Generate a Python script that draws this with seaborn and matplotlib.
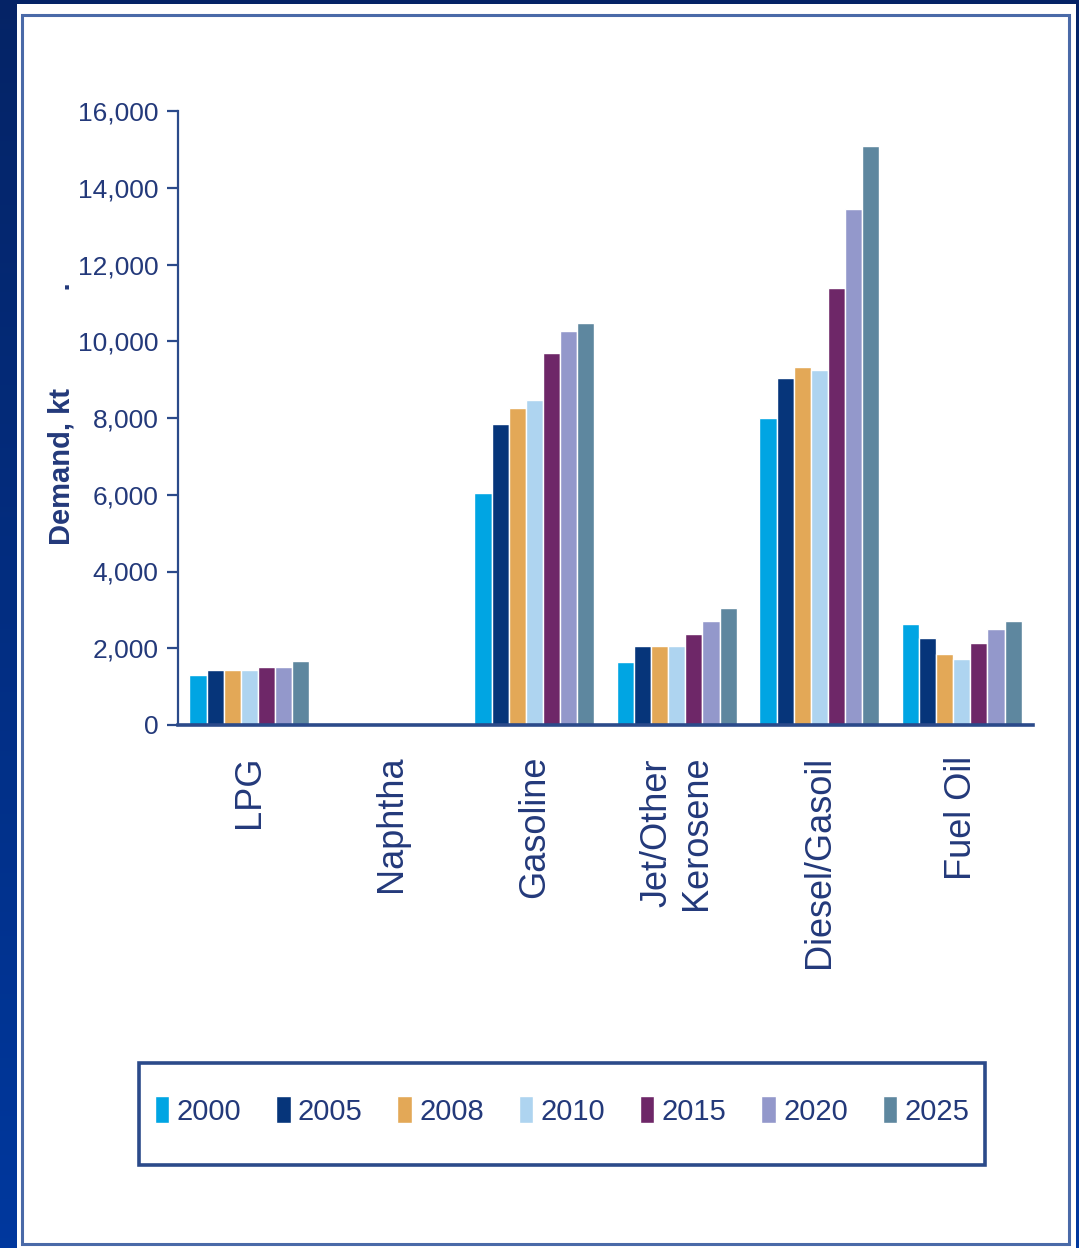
import numpy as np
import pandas as pd
import matplotlib
matplotlib.use("Agg")
import matplotlib.pyplot as plt
import seaborn as sns
from matplotlib.patches import Rectangle
from matplotlib.ticker import FuncFormatter, MultipleLocator

# ---------------- data ----------------
categories = ["LPG", "Naphtha", "Gasoline", "Jet/Other\nKerosene", "Diesel/Gasoil", "Fuel Oil"]
years = ["2000", "2005", "2008", "2010", "2015", "2020", "2025"]
d2000 = [1300, 0, 6050, 1650, 7990, 2640]
d2005 = [1440, 0, 7850, 2060, 9040, 2280]
d2008 = [1440, 0, 8260, 2060, 9330, 1850]
d2010 = [1440, 0, 8470, 2060, 9260, 1720]
d2015 = [1510, 0, 9700, 2360, 11390, 2130]
d2020 = [1500, 0, 10270, 2700, 13450, 2490]
d2025 = [1660, 0, 10480, 3050, 15080, 2700]
series = [d2000, d2005, d2008, d2010, d2015, d2020, d2025]
colors = ["#00a5e3", "#06357a", "#e3a857", "#aed4f0", "#6e2768", "#9398cb", "#5e879f"]

rows = []
for y, vals in zip(years, series):
    for c, v in zip(categories, vals):
        rows.append({"category": c, "year": y, "value": v})
df = pd.DataFrame(rows)

sns.set_theme(style="white")
plt.rcParams["font.family"] = ["Liberation Sans", "DejaVu Sans"]
TXT = "#23397a"
AX = "#2b4a8a"

W, H = 1079, 1248
fig = plt.figure(figsize=(W / 100, H / 100), dpi=100)

# background gradient (decoration)
bg = fig.add_axes([0, 0, 1, 1], zorder=-10)
g = np.linspace(0, 1, 256).reshape(-1, 1)
c_top = np.array([0.02, 0.14, 0.40])
c_bot = np.array([0.00, 0.22, 0.62])
img = c_top[None, None, :] * (1 - g[..., None]) + c_bot[None, None, :] * g[..., None]
bg.imshow(np.repeat(img, 2, axis=1), aspect="auto", extent=[0, 1, 0, 1], origin="upper")
bg.set_xlim(0, 1); bg.set_ylim(0, 1); bg.axis("off")
bg.add_patch(Rectangle((17 / W, 0), (1076 - 17) / W, (H - 4) / H, facecolor="white",
                       edgecolor="none", transform=bg.transAxes))
bg.add_patch(Rectangle((22 / W, 4 / H), (1069 - 22) / W, (1233 - 4) / H, facecolor="none",
                       edgecolor="#4a6aa8", linewidth=2.2, transform=bg.transAxes))
# legend frame
bg.add_patch(Rectangle((139 / W, 1 - 1165 / H), (985 - 139) / W, (1165 - 1063) / H,
                       facecolor="white", edgecolor=AX, linewidth=2.6,
                       transform=bg.transAxes))

ax = fig.add_axes([178 / W, 1 - 725 / H, (1033 - 178) / W, (725 - 111) / H])
ax.set_facecolor("none")
sns.barplot(data=df, x="category", y="value", hue="year", palette=colors,
            width=0.84, gap=0, saturation=1, ax=ax, order=categories, hue_order=years)

ax.set_ylim(0, 16000)
ax.set_xlim(-0.5, 5.5)
ax.yaxis.set_major_locator(MultipleLocator(2000))
ax.yaxis.set_major_formatter(FuncFormatter(lambda v, p: f"{int(v):,}"))
for s in ["top", "right"]:
    ax.spines[s].set_visible(False)
ax.spines["left"].set_color(AX); ax.spines["left"].set_linewidth(1.6)
ax.spines["bottom"].set_color(AX); ax.spines["bottom"].set_linewidth(2.6)
ax.tick_params(axis="y", direction="out", length=8, width=1.6, color=AX, left=True, pad=6)
ax.tick_params(axis="x", length=0, pad=22)
for lab in ax.get_yticklabels():
    lab.set_fontsize(19); lab.set_color(TXT)
for lab in ax.get_xticklabels():
    lab.set_rotation(90); lab.set_fontsize(26); lab.set_color(TXT)
    lab.set_ha("center"); lab.set_va("top"); lab.set_multialignment("center")
ax.set_xlabel("")
ax.set_ylabel("Demand, kt            .", fontsize=21, fontweight="bold", color=TXT)
ax.yaxis.set_label_coords((62 - 178) / (1033 - 178), (725 - 414) / (725 - 111))
ax.yaxis.label.set_va("center")

handles, labels = ax.get_legend_handles_labels()
ax.get_legend().remove()
leg = fig.legend(handles, labels, loc="center", bbox_to_anchor=(562 / W, 1 - 1111 / H),
                 ncol=7, frameon=False, prop={"size": 21},
                 handlelength=0.5, handleheight=1.05, handletextpad=0.25,
                 columnspacing=1.19)
for t in leg.get_texts():
    t.set_color(TXT)

fig.savefig("out.png", dpi=100)
